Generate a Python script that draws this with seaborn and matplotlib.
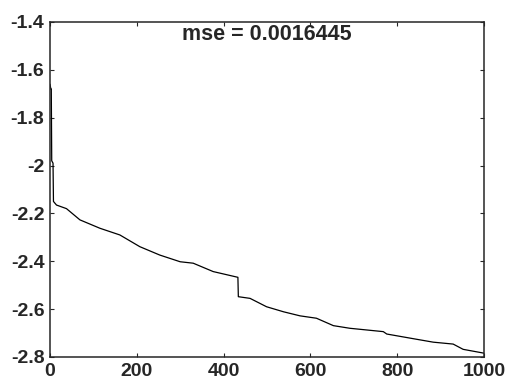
import numpy as np
import pandas as pd
import matplotlib
matplotlib.use("Agg")
import matplotlib.pyplot as plt
import seaborn as sns

# values (iteration, log error)
iters = [0, 2, 3, 4, 7, 8, 15, 38, 69, 115, 161, 207, 253, 300, 330, 376, 433, 434,
         461, 499, 538, 576, 614, 653, 691, 768, 776, 845, 883, 929, 952, 1000]
err = [-1.66, -1.68, -1.68, -1.98, -1.99, -2.15, -2.165, -2.18, -2.227, -2.262,
       -2.29, -2.339, -2.374, -2.402, -2.408, -2.443, -2.467, -2.548, -2.555,
       -2.59, -2.611, -2.628, -2.638, -2.669, -2.68, -2.694, -2.704, -2.726,
       -2.738, -2.746, -2.768, -2.784]
title_txt = "mse = 0.0016445"
xticks = [0, 200, 400, 600, 800, 1000]
yticks = [-2.8, -2.6, -2.4, -2.2, -2.0, -1.8, -1.6, -1.4]
yticklabels = ["-2.8", "-2.6", "-2.4", "-2.2", "-2", "-1.8", "-1.6", "-1.4"]

df = pd.DataFrame({"iter": iters, "err": err})

sns.set_style("ticks")
plt.rcParams["font.family"] = ["Liberation Sans", "DejaVu Sans"]
plt.rcParams["font.weight"] = "bold"

fig = plt.figure(figsize=(5.08, 3.81), dpi=100)
ax = fig.add_axes([0.0984, 0.063, 0.8543, 0.8793])

sns.lineplot(data=df, x="iter", y="err", ax=ax, color="black",
             linewidth=0.9, sort=False)

ax.set_xlim(0, 1000)
ax.set_ylim(-2.8, -1.4)
ax.set_xticks(xticks)
ax.set_yticks(yticks)
ax.set_yticklabels(yticklabels)
ax.set_xlabel("")
ax.set_ylabel("")
ax.tick_params(direction="in", length=3, width=0.8, top=True, right=True,
               labelsize=14, pad=4)
for lab in ax.get_xticklabels() + ax.get_yticklabels():
    lab.set_fontweight("bold")
for s in ax.spines.values():
    s.set_linewidth(1.1)
    s.set_visible(True)

ax.text(0.5, 0.962, title_txt, transform=ax.transAxes, ha="center",
        va="center", fontsize=15.5, fontweight="bold")

fig.savefig("out.png", dpi=100)
